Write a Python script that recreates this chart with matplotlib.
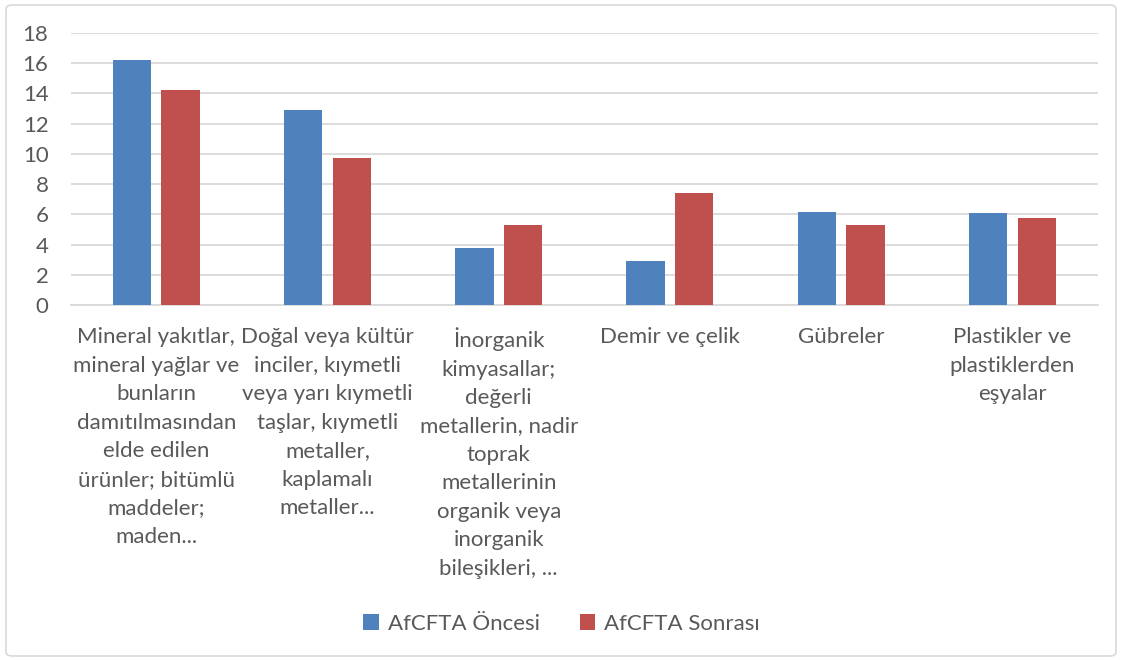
import numpy as np
import matplotlib
matplotlib.use("Agg")
import matplotlib.pyplot as plt
from matplotlib.patches import FancyBboxPatch, Patch

categories = [
    "Mineral yakıtlar,\nmineral yağlar ve\nbunların\ndamıtılmasından\nelde edilen\nürünler; bitümlü\nmaddeler;\nmaden...",
    "Doğal veya kültür\ninciler, kıymetli\nveya yarı kıymetli\ntaşlar, kıymetli\nmetaller,\nkaplamalı\nmetaller...",
    "İnorganik\nkimyasallar;\ndeğerli\nmetallerin, nadir\ntoprak\nmetallerinin\norganik veya\ninorganik\nbileşikleri, ...",
    "Demir ve çelik",
    "Gübreler",
    "Plastikler ve\nplastiklerden\neşyalar",
]
series_names = ["AfCFTA Öncesi", "AfCFTA Sonrası"]
oncesi = [16.2, 12.9, 3.75, 2.9, 6.15, 6.1]
sonrasi = [14.2, 9.7, 5.28, 7.4, 5.3, 5.75]
yticks = [0, 2, 4, 6, 8, 10, 12, 14, 16, 18]

BLUE = "#4F81BD"
RED = "#C0504D"
TXT = "#595959"
GRID = "#D9D9D9"

plt.rcParams['font.family'] = ['Lato', 'DejaVu Sans']

W, H = 1123, 660
fig = plt.figure(figsize=(W / 100, H / 100), dpi=100)
ax = fig.add_axes([70.7 / W, (H - 305) / H, (1098 - 70.7) / W, (305 - 33) / H])

x = np.arange(len(categories))
bw = 0.224
off = 0.142
ax.bar(x - off, oncesi, bw, color=BLUE, zorder=3, label=series_names[0])
ax.bar(x + off, sonrasi, bw, color=RED, zorder=3, label=series_names[1])

ax.set_xlim(-0.5, len(categories) - 0.5)
ax.set_ylim(0, 18)
ax.set_yticks(yticks)
ax.set_yticklabels([str(t) for t in yticks])
ax.yaxis.grid(True, color=GRID, linewidth=1.3, zorder=0)
ax.set_axisbelow(True)
for s in ['top', 'right', 'left']:
    ax.spines[s].set_visible(False)
ax.spines['bottom'].set_color(GRID)
ax.spines['bottom'].set_linewidth(1.3)
ax.tick_params(axis='y', length=0, pad=16, labelsize=16, labelcolor=TXT)
ax.tick_params(axis='x', length=0, pad=16, labelsize=16, labelcolor=TXT)
ax.set_xticks(x)
ax.set_xticklabels(categories, linespacing=1.53, ha='center', va='top')

handles = [Patch(facecolor=BLUE, edgecolor='none'), Patch(facecolor=RED, edgecolor='none')]
fig.legend(handles, series_names, loc='center', bbox_to_anchor=(0.5, 1 - 624 / H),
           ncol=2, frameon=False, fontsize=16, labelcolor=TXT,
           handlelength=0.7, handleheight=0.7, handletextpad=0.4, columnspacing=1.8)

border = FancyBboxPatch((6 / W, 4 / H), (1116 - 6) / W, (655 - 4) / H,
                        boxstyle="round,pad=0,rounding_size=0.006",
                        transform=fig.transFigure, facecolor='none',
                        edgecolor=GRID, linewidth=1.2)
fig.patches.append(border)

fig.savefig("out.png", dpi=100, facecolor='white')
